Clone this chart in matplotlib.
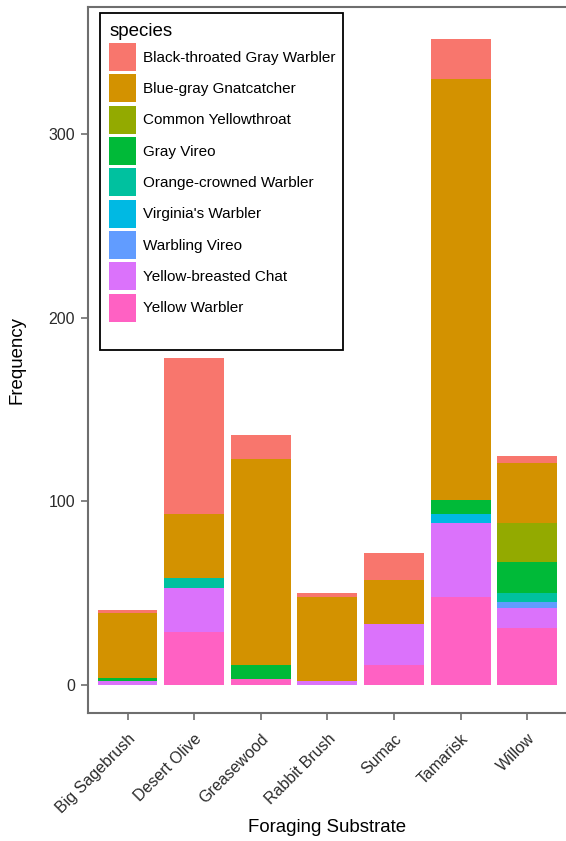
import matplotlib
matplotlib.use("Agg")
import matplotlib.pyplot as plt
from matplotlib.patches import Rectangle
import numpy as np

plt.rcParams['font.family'] = ['Liberation Sans', 'DejaVu Sans']

substrates = ["Big Sagebrush", "Desert Olive", "Greasewood", "Rabbit Brush",
              "Sumac", "Tamarisk", "Willow"]

# counts per species, one value per substrate
black_throated_gray = [2, 85, 13, 2, 15, 22, 4]
blue_gray_gnatcatcher = [35, 35, 112, 46, 24, 229, 33]
common_yellowthroat = [0, 0, 0, 0, 0, 0, 21]
gray_vireo = [2, 0, 8, 0, 0, 8, 17]
orange_crowned = [0, 5, 0, 0, 0, 0, 5]
virginias = [0, 0, 0, 0, 0, 5, 0]
warbling_vireo = [0, 0, 0, 0, 0, 0, 3]
yellow_breasted_chat = [2, 24, 0, 2, 22, 40, 11]
yellow_warbler = [0, 29, 3, 0, 11, 48, 31]

species = ["Black-throated Gray Warbler", "Blue-gray Gnatcatcher",
           "Common Yellowthroat", "Gray Vireo", "Orange-crowned Warbler",
           "Virginia's Warbler", "Warbling Vireo", "Yellow-breasted Chat",
           "Yellow Warbler"]
counts = [black_throated_gray, blue_gray_gnatcatcher, common_yellowthroat,
          gray_vireo, orange_crowned, virginias, warbling_vireo,
          yellow_breasted_chat, yellow_warbler]
colors = ["#F8766D", "#D39200", "#93AA00", "#00BA38", "#00C19F",
          "#00B9E3", "#619CFF", "#DB72FB", "#FF61C3"]

fig = plt.figure(figsize=(5.66, 8.41), dpi=100)
ax = fig.add_axes([0.1546, 0.1522, 0.848, 0.8391])

x = np.arange(len(substrates))
bottom = np.zeros(len(substrates))
handles = []
# stack from the last species up so the first one ends on top
for name, vals, col in reversed(list(zip(species, counts, colors))):
    vals = np.array(vals, dtype=float)
    b = ax.bar(x, vals, width=0.9, bottom=bottom, color=col, label=name,
               linewidth=0)
    handles.append(b)
    bottom += vals

ax.set_xlim(-0.6, len(substrates) - 0.4)
ax.set_ylim(-15.3, 369.2)
ax.set_yticks([0, 100, 200, 300])
ax.set_xticks(x)
ax.set_xticklabels(substrates, rotation=45, ha='right', va='top',
                   rotation_mode='anchor')

axis_grey = '#6e6e6e'
for s in ax.spines.values():
    s.set_color(axis_grey)
    s.set_linewidth(1.5)
ax.tick_params(axis='both', colors=axis_grey, length=5, width=1.2,
               labelsize=11.5, labelcolor='#2b2b2b', pad=4)
ax.tick_params(axis='x', pad=8)

ax.set_ylabel("Frequency", fontsize=13.4)
ax.set_xlabel("Foraging Substrate", fontsize=13.4)
ax.yaxis.set_label_coords(-0.13, 0.5)
ax.xaxis.set_label_coords(0.5, -0.150)

leg = ax.legend(handles[::-1], species, title="species", loc='upper left',
                bbox_to_anchor=(0.026, 0.9919), borderaxespad=0,
                frameon=False, fontsize=11, title_fontsize=13.5,
                handlelength=1.77, handleheight=2.44, labelspacing=0.22,
                handletextpad=0.4, borderpad=0.62, alignment='left')
# legend box outline
ax.add_patch(Rectangle((0.026, 0.514), 0.506, 0.4779, transform=ax.transAxes,
                       fill=False, edgecolor='black', linewidth=1.3,
                       zorder=5))

fig.savefig("out.png", dpi=100)
